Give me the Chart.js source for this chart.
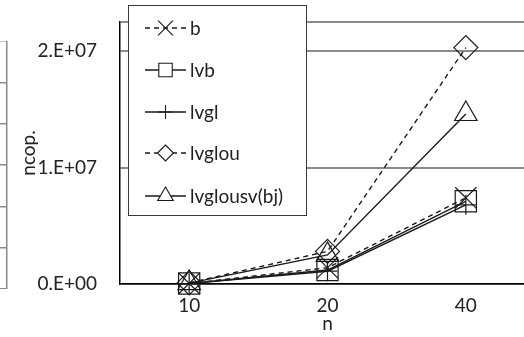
<!DOCTYPE html>
<html>
<head>
<meta charset="utf-8">
<script src="https://cdn.jsdelivr.net/npm/chart.js@4/dist/chart.umd.min.js"></script>
<style>
  html, body { margin: 0; padding: 0; background: #fff; overflow: hidden; }
  #wrap { position: relative; width: 524px; height: 337px; overflow: hidden; }
  #side { position: absolute; left: 0; top: 41px; }
  #main { position: absolute; left: 0; top: 0; }
</style>
</head>
<body>
<div id="wrap">
  <canvas id="side" width="8" height="248"></canvas>
  <canvas id="main" width="536" height="337"></canvas>
</div>
<script>
const FONT = "Lato, 'Open Sans', sans-serif";
const FS = 19;

const ns = ["10", "20", "40"];
const seriesNames = ["b", "lvb", "lvgl", "lvglou", "lvglousv(bj)"];
const bVals = [0.05e6, 1.4e6, 7.4e6];
const lvbVals = [0.04e6, 1.2e6, 7.1e6];
const lvglVals = [0.03e6, 1.1e6, 6.8e6];
const lvglouVals = [0.1e6, 2.8e6, 20.3e6];
const lvglousvVals = [0.08e6, 2.5e6, 14.6e6];
const yTicks = [0, 1e7, 2e7, 2.25e7];
const yTickLabels = ["0.E+00", "1.E+07", "2.E+07", ""];
// neighbour chart fragment on the left edge: only its ticks show
const sideTicks = [0, 1, 2, 3, 4, 5, 6];

const INK = "#1a1a1a";
const GRID = "#8a8a8a";

function series(label, data, style, radius, dashed) {
  return {
    label,
    data,
    borderColor: INK,
    borderWidth: 1.4,
    borderDash: dashed ? [5, 4] : [],
    backgroundColor: "rgba(0,0,0,0)",
    pointStyle: style,
    pointRadius: radius,
    pointBorderColor: INK,
    pointBackgroundColor: "rgba(0,0,0,0)",
    pointBorderWidth: 1.2,
    tension: 0,
    fill: false,
    clip: false,
  };
}

const datasets = [
  series(seriesNames[0], bVals, "crossRot", 15, true),
  series(seriesNames[1], lvbVals, "rect", 15, false),
  series(seriesNames[2], lvglVals, "cross", 10, false),
  series(seriesNames[3], lvglouVals, "rectRot", 12, true),
  series(seriesNames[4], lvglousvVals, "triangle", 13, false),
];

function drawMarker(ctx, style, r, x, y) {
  if (window.Chart && Chart.helpers && Chart.helpers.drawPoint) {
    Chart.helpers.drawPoint(ctx, { pointStyle: style, radius: r, rotation: 0, borderWidth: 1.1 }, x, y);
    return;
  }
  ctx.beginPath();
  ctx.arc(x, y, r * 0.6, 0, Math.PI * 2);
  ctx.stroke();
}

// legend box floating inside the plot, like the original
const boxLegend = {
  id: "boxLegend",
  afterDraw(chart) {
    const ctx = chart.ctx;
    const left = 128.5, top = 5.5, w = 178, h = 210;
    const rowY = [28, 70, 112, 153, 196];
    const legendR = [10.5, 9.5, 7, 8, 9];
    ctx.save();
    ctx.fillStyle = "#fff";
    ctx.fillRect(left, top, w, h);
    ctx.strokeStyle = "#3a3a3a";
    ctx.lineWidth = 1;
    ctx.strokeRect(left, top, w, h);
    chart.data.datasets.forEach((ds, i) => {
      const y = rowY[i];
      ctx.strokeStyle = INK;
      ctx.lineWidth = 1.3;
      ctx.setLineDash(ds.borderDash.length ? [5, 4] : []);
      ctx.beginPath();
      ctx.moveTo(145, y);
      ctx.lineTo(186, y);
      ctx.stroke();
      ctx.setLineDash([]);
      ctx.fillStyle = "#fff";
      ctx.strokeStyle = INK;
      ctx.lineWidth = 1.1;
      drawMarker(ctx, ds.pointStyle, legendR[i], 165.5, y);
      ctx.fillStyle = "#222";
      ctx.font = FS + "px " + FONT;
      ctx.textBaseline = "middle";
      ctx.textAlign = "left";
      ctx.fillText(ds.label, 190, y + 1);
    });
    ctx.restore();
  },
};

new Chart(document.getElementById("main"), {
  type: "line",
  data: { labels: ns, datasets },
  options: {
    responsive: false,
    animation: false,
    layout: { autoPadding: false, padding: { left: 14, top: 22, right: 1, bottom: 0 } },
    plugins: { legend: { display: false }, tooltip: { enabled: false } },
    scales: {
      x: {
        offset: true,
        grid: { display: false, drawTicks: false },
        border: { color: "#000", width: 1.5 },
        ticks: { color: "#222", font: { family: FONT, size: FS }, padding: 10, maxRotation: 0 },
        title: { display: true, text: "n", color: "#222", font: { family: FONT, size: FS }, padding: { top: 0, bottom: 2 } },
        afterFit(s) {
          s.height = 53;
          s.paddingLeft = 0;
          s.paddingRight = 0;
        },
      },
      y: {
        min: 0,
        max: 2.25e7,
        afterBuildTicks(s) { s.ticks = yTicks.map((v) => ({ value: v })); },
        grid: { color: GRID, lineWidth: 2, drawTicks: false },
        border: { color: "#000", width: 1.5 },
        ticks: {
          color: "#222",
          font: { family: FONT, size: FS },
          padding: 23,
          callback: (v, i) => yTickLabels[i],
        },
        title: { display: true, text: "ncop.", color: "#222", font: { family: FONT, size: FS }, padding: { top: 3, bottom: 0 } },
        afterFit(s) {
          s.width = 106;
          s.paddingTop = 0;
          s.paddingBottom = 0;
        },
      },
    },
  },
  plugins: [boxLegend],
});

new Chart(document.getElementById("side"), {
  type: "line",
  data: { labels: [""], datasets: [] },
  options: {
    responsive: false,
    animation: false,
    layout: { autoPadding: false, padding: 0 },
    plugins: { legend: { display: false }, tooltip: { enabled: false } },
    scales: {
      x: { display: false },
      y: {
        position: "right",
        min: 0,
        max: 6,
        afterBuildTicks(s) { s.ticks = sideTicks.map((v) => ({ value: v })); },
        grid: { color: GRID, lineWidth: 1.5, drawTicks: false },
        border: { color: GRID, width: 1.5 },
        ticks: { display: false },
        afterFit(s) { s.width = 1; },
      },
    },
  },
});
</script>
</body>
</html>
